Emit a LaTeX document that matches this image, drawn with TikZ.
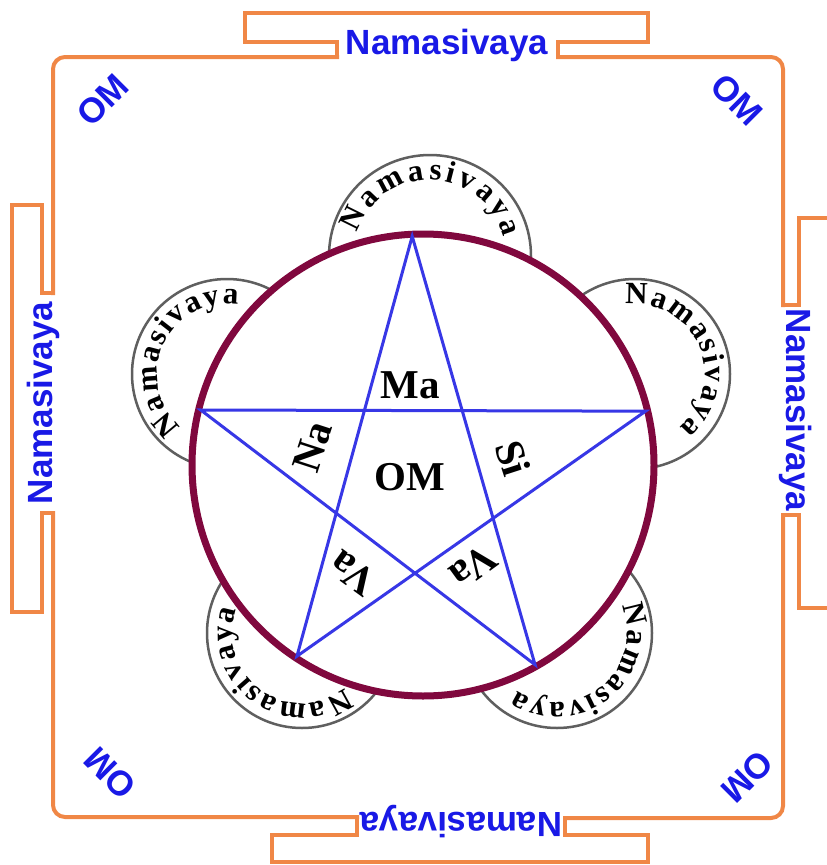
\documentclass[tikz,border=0pt]{standalone}
\usepackage{fontspec}
\setmainfont{Liberation Serif}
\newfontfamily\framefont{Liberation Sans}
\definecolor{frameorange}{RGB}{240,135,70}
\definecolor{omblue}{RGB}{25,25,230}
\definecolor{starblue}{RGB}{55,55,230}
\definecolor{ringmaroon}{RGB}{128,8,62}
\definecolor{petalgray}{RGB}{95,95,95}
\usetikzlibrary{calc,decorations.text}

\newcommand\petalfont{\fontsize{31}{31}\selectfont\bfseries}

\tikzset{
  frameline/.style={draw=frameorange, line width=4pt, line cap=rect, line join=miter},
  framelabel/.style={text=omblue, font=\framefont\bfseries\fontsize{35}{35}\selectfont, inner sep=0pt},
  petal/.style={draw=petalgray, line width=2.5pt, fill=white},
  starline/.style={draw=starblue, line width=3pt, line join=miter},
  syllable/.style={font=\bfseries\fontsize{41}{41}\selectfont, inner sep=0pt}
}

\begin{document}
\begin{tikzpicture}[x=1pt, y=1pt]
  \useasboundingbox (0,0) rectangle (827,-865);

  % orange frame, corners
  \draw[frameline, rounded corners=12] (337,-57) -- (53,-57) -- (53,-293);
  \draw[frameline, rounded corners=12] (558,-57) -- (783,-57) -- (783,-305);
  \draw[frameline, rounded corners=12] (53,-513) -- (53,-817) -- (357,-817);
  \draw[frameline, rounded corners=12] (565,-818) -- (783,-818) -- (783,-515);
  % orange frame, gates
  \draw[frameline] (337,-57) -- (337,-42) -- (245,-42) -- (245,-13) -- (648,-13) -- (648,-42) -- (558,-42) -- (558,-57);
  \draw[frameline] (53,-293) -- (42,-293) -- (42,-205) -- (12,-205) -- (12,-612) -- (42,-612) -- (42,-513) -- (53,-513);
  \draw[frameline] (783,-305) -- (799,-305) -- (799,-218) -- (835,-218) -- (835,-608) -- (799,-608) -- (799,-515) -- (783,-515);
  \draw[frameline] (357,-817) -- (357,-835) -- (272,-835) -- (272,-862) -- (648,-862) -- (648,-835) -- (565,-835) -- (565,-818);

  \node[framelabel] (nmtop) at (447,-45) {Namasivaya};
  \node[framelabel, rotate=90] (nmleft) at (43,-403) {Namasivaya};
  \node[framelabel, rotate=-90] (nmright) at (796,-410) {Namasivaya};
  \node[framelabel, rotate=180] (nmbottom) at (461,-822) {Namasivaya};

  \node[framelabel, rotate=45] (omtl) at (103,-100) {OM};
  \node[framelabel, rotate=-45] (omtr) at (737,-100) {OM};
  \node[framelabel, rotate=135] (ombl) at (110,-773) {OM};
  \node[framelabel, rotate=-135] (ombr) at (747,-777) {OM};

  % petals with the mantra round them
  \foreach \cx/\cy/\rr/\ang in {430/-256/101/88, 227/-374/95/155, 635/-374/95/24, 302/-633/95/234, 557/-633/95/309} {
    \draw[petal] (\cx,\cy) circle[radius=\rr];
    \path[decorate, decoration={text along path, text align=fit to path, text={|\petalfont|Namasivaya}}]
      ($(\cx,\cy)+({\ang+74}:{\rr-25})$) arc[start angle=\ang+74, end angle=\ang-74, radius=\rr-25];
  }

  % ring and star
  \coordinate (ctr) at (423,-465);
  \draw[draw=ringmaroon, line width=7pt, fill=white] (ctr) circle[radius=231];

  \coordinate (ptop) at ($(ctr)+(92.7:229)$);
  \coordinate (pleft) at ($(ctr)+(166.1:229)$);
  \coordinate (pbl) at ($(ctr)+(236.6:229)$);
  \coordinate (pbr) at ($(ctr)+(299.3:229)$);
  \coordinate (pright) at ($(ctr)+(13.6:229)$);
  \draw[starline] (ptop) -- (pbl) -- (pright) -- (pleft) -- (pbr) -- cycle;

  \node[syllable] (ma) at (410,-385) {Ma};
  \node[syllable] (om) at (410,-477) {OM};
  \node[syllable, rotate=72] (na) at (313,-447) {Na};
  \node[syllable, rotate=-72] (si) at (513,-458) {Si};
  \node[syllable, rotate=144] (valeft) at (353,-573) {Va};
  \node[syllable, rotate=-144] (varight) at (473,-567) {Va};
\end{tikzpicture}
\end{document}
